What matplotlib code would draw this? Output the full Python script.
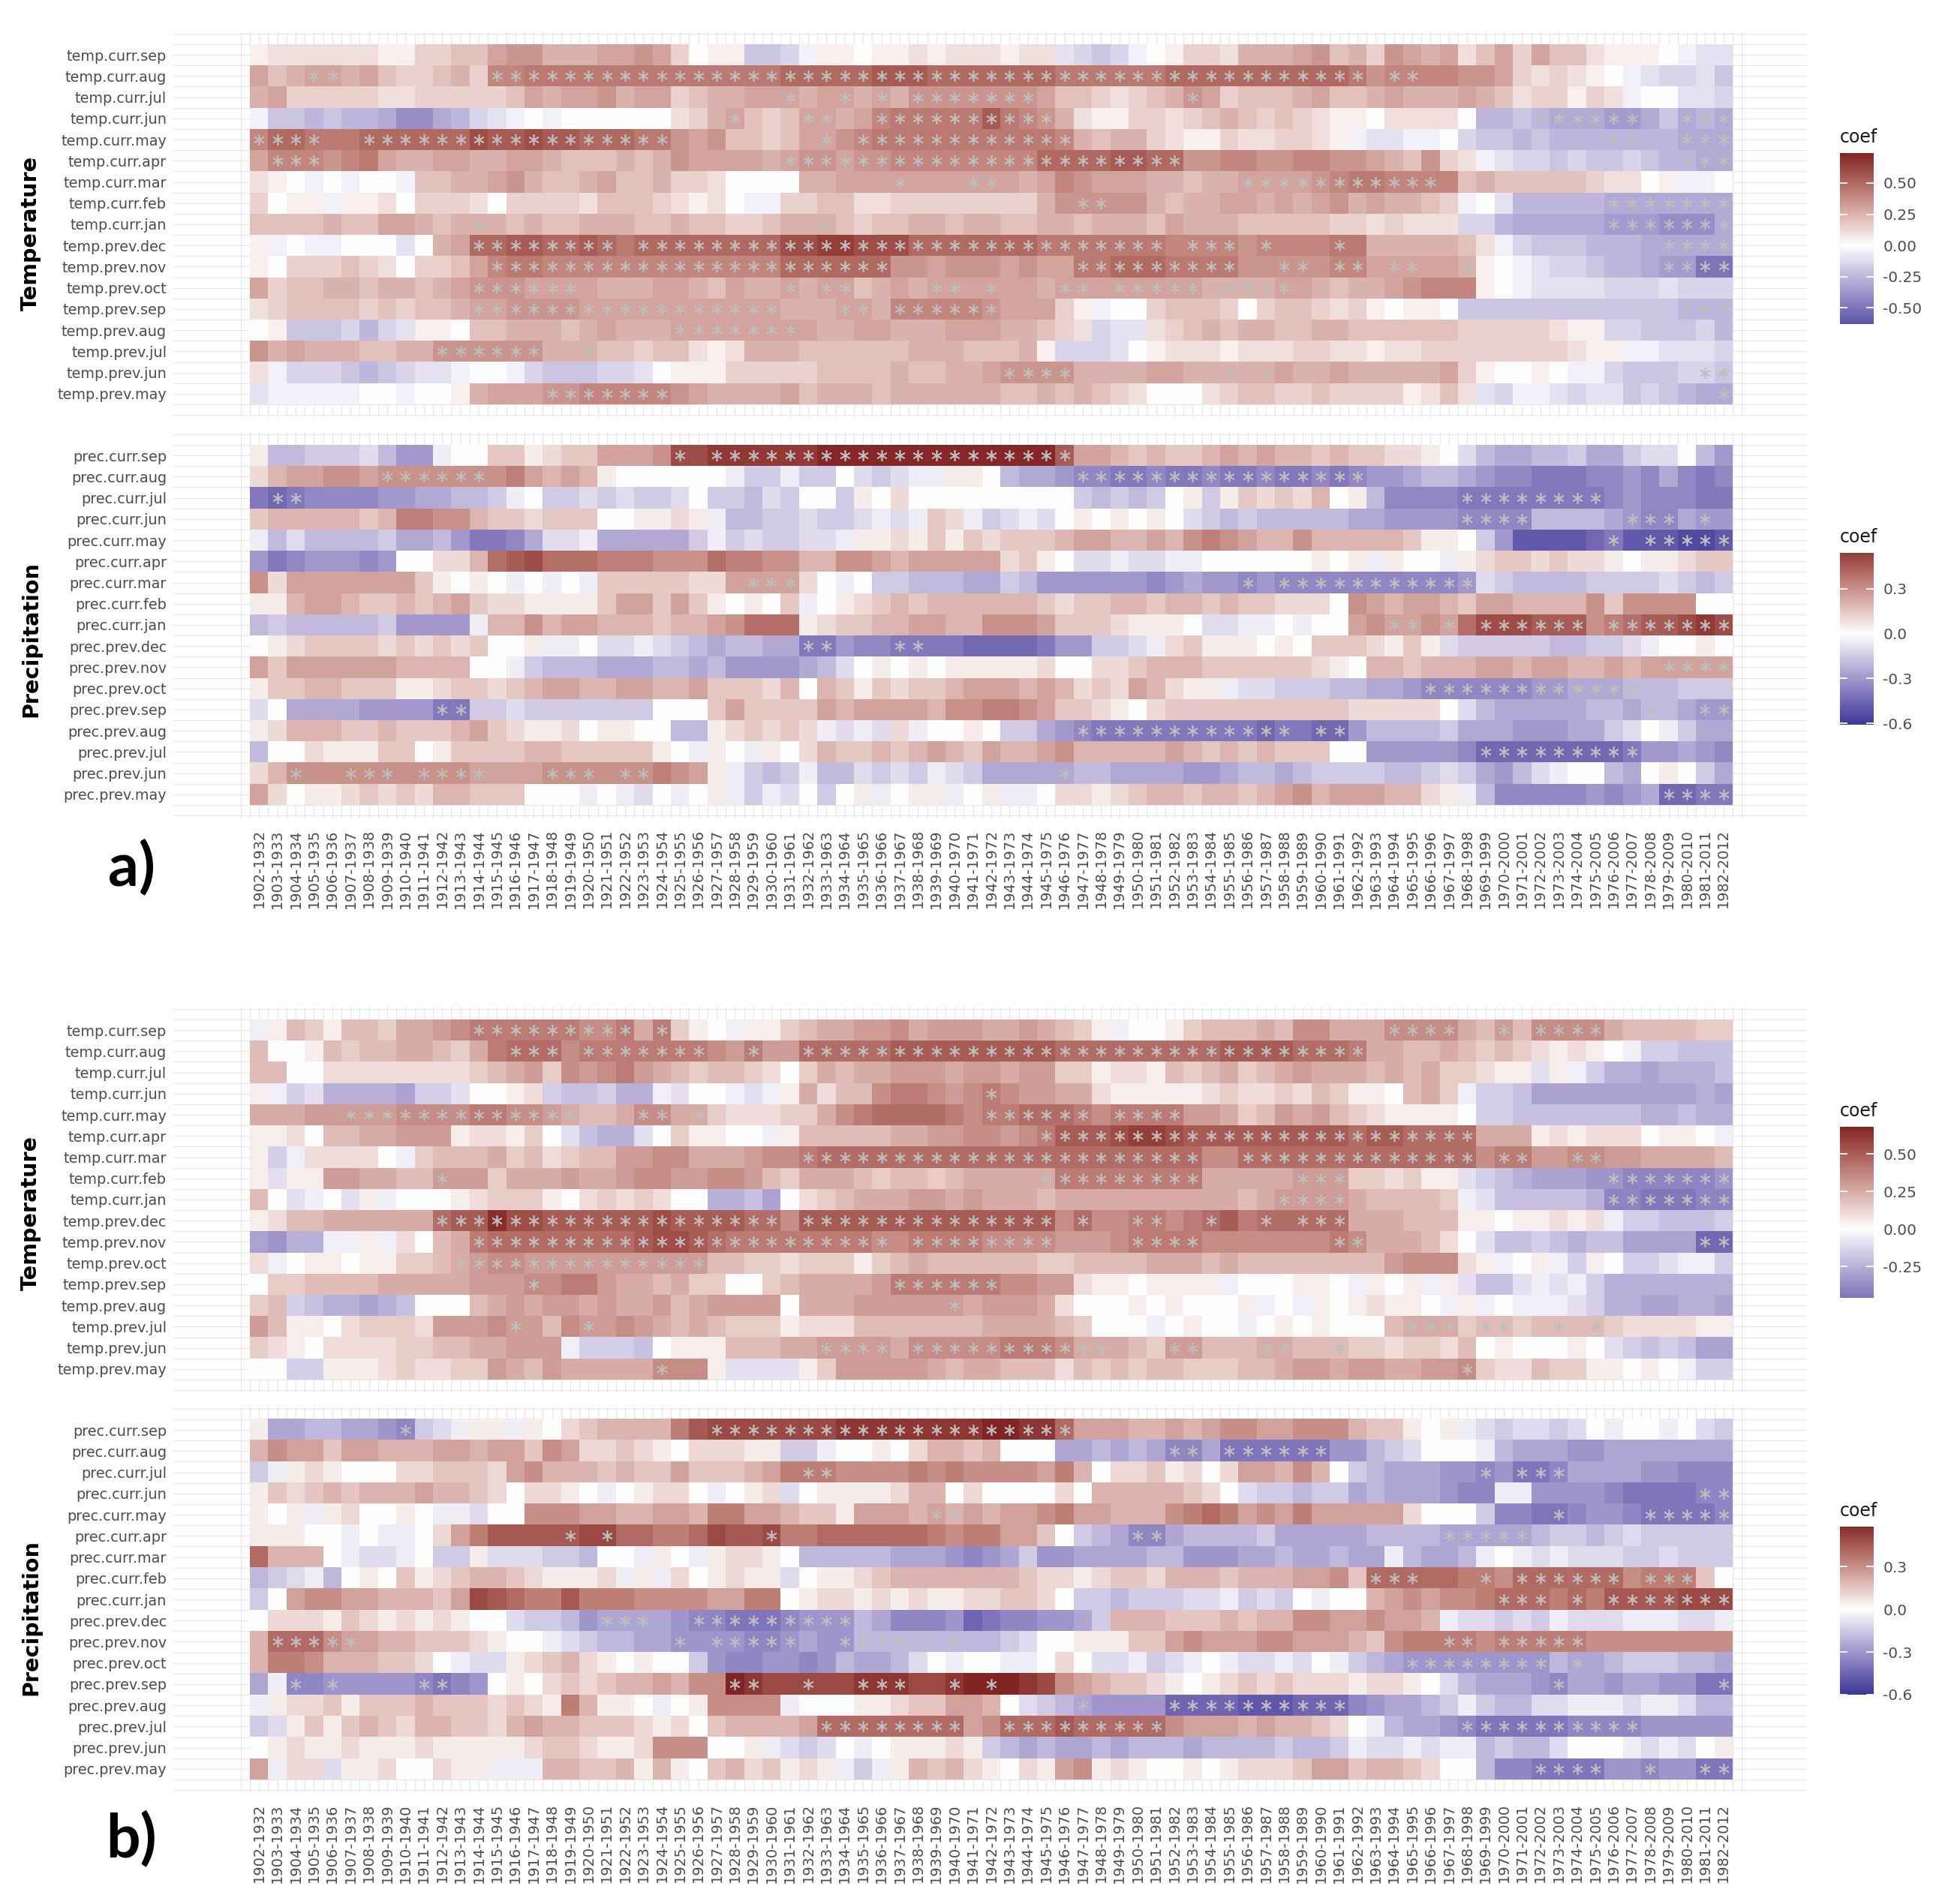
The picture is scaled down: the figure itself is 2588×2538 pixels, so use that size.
import numpy as np
import matplotlib
matplotlib.use('Agg')
import matplotlib.pyplot as plt
from matplotlib.colors import ListedColormap, Normalize, to_rgb

plt.rcParams['font.family'] = 'DejaVu Sans'

# ---------------------------------------------------------------- labels
temp_rows = ['temp.curr.sep', 'temp.curr.aug', 'temp.curr.jul', 'temp.curr.jun',
             'temp.curr.may', 'temp.curr.apr', 'temp.curr.mar', 'temp.curr.feb',
             'temp.curr.jan', 'temp.prev.dec', 'temp.prev.nov', 'temp.prev.oct',
             'temp.prev.sep', 'temp.prev.aug', 'temp.prev.jul', 'temp.prev.jun',
             'temp.prev.may']
prec_rows = ['prec.curr.sep', 'prec.curr.aug', 'prec.curr.jul', 'prec.curr.jun',
             'prec.curr.may', 'prec.curr.apr', 'prec.curr.mar', 'prec.curr.feb',
             'prec.curr.jan', 'prec.prev.dec', 'prec.prev.nov', 'prec.prev.oct',
             'prec.prev.sep', 'prec.prev.aug', 'prec.prev.jul', 'prec.prev.jun',
             'prec.prev.may']

windows = ['1902-1932', '1903-1933', '1904-1934', '1905-1935', '1906-1936', '1907-1937',
           '1908-1938', '1909-1939', '1910-1940', '1911-1941', '1912-1942', '1913-1943',
           '1914-1944', '1915-1945', '1916-1946', '1917-1947', '1918-1948', '1919-1949',
           '1920-1950', '1921-1951', '1922-1952', '1923-1953', '1924-1954', '1925-1955',
           '1926-1956', '1927-1957', '1928-1958', '1929-1959', '1930-1960', '1931-1961',
           '1932-1962', '1933-1963', '1934-1964', '1935-1965', '1936-1966', '1937-1967',
           '1938-1968', '1939-1969', '1940-1970', '1941-1971', '1942-1972', '1943-1973',
           '1944-1974', '1945-1975', '1946-1976', '1947-1977', '1948-1978', '1949-1979',
           '1950-1980', '1951-1981', '1952-1982', '1953-1983', '1954-1984', '1955-1985',
           '1956-1986', '1957-1987', '1958-1988', '1959-1989', '1960-1990', '1961-1991',
           '1962-1992', '1963-1993', '1964-1994', '1965-1995', '1966-1996', '1967-1997',
           '1968-1998', '1969-1999', '1970-2000', '1971-2001', '1972-2002', '1973-2003',
           '1974-2004', '1975-2005', '1976-2006', '1977-2007', '1978-2008', '1979-2009',
           '1980-2010', '1981-2011', '1982-2012']

# ---------------------------------------------------------------- coefficients
# one string per row, one character per window:
# '0' = 0, digits 1-9 = +0.05..+0.45, A-E = +0.50..+0.70, a-m = -0.05..-0.65
a_temp = [
    "1222222113 3446775556 6763011ddc a110112122 2122bcdca0 1332555674 5376562463 64421110abb",
    "6456656433 4538899999 999999999A AAAABBBAAA AAAA999999 AAAAAAAAAA 9788887763 23210abccbd",
    "5633333223 3333465667 5663455666 5665657777 7776443234 5763444564 4565556542 33132a00bbc",
    "addedeefhh fecba0a000 0002356434 6656899999 B987521133 2345434321 1022220eed efffggfdfef",
    "8AA999AAAA AACBBCBBAA A997674434 6678999999 9999854553 2113223321 abbaa0cdde deeeeeeefff",
    "6888789655 6655665444 5457666656 7767788888 888AAAABBA A778877887 7654732abc cdcddcdeeff",
    "210a0a00a4 4556754456 4453320000 5566666666 6656876665 5455666678 9988884544 44432201aa0",
    "3011a11203 3320333324 4432120aa3 3442233333 3335777775 4556656567 565543a0be eeeefffffff",
    "4444544665 4555454455 5445443345 5543445545 5445545554 6555444443 323222ccef ffffggghhhf",
    "1a0aa000b0 56AABBAABA 9AAAAAAAAC CDDCCCAAAA AAA9999999 8888788889 95555542ac dddeeefffff",
    "1033343203 3468998888 888888888A AAAAA77677 7676699AAA 9999777778 866666510a bccdeefggjj",
    "6344554554 5677766665 5566546556 5664565666 6665666666 6655556654 556788810a bbbbcccbccc",
    "2344443434 4566777766 6666666665 5566588888 766631a003 4443034432 310110dddd ddddddddeee",
    "01dddcecb1 1044555456 5556666666 6556655566 655432cbb2 3454554455 4444443333 3211ccdddce",
    "7565554455 7777775554 4344212555 4444445554 4451cccb01 2221222332 2122333333 33211aabbbc",
    "2acccdedcb ba00acdddc cb01113333 3444454455 6777755556 6555556556 5555563100 10aacdddccd",
    "baaaaa00a0 0156667788 8887655556 4555455555 5445454320 0023443343 3331242bca abcbbdcdeff",
]
a_prec = [
    "1ddcccbdff a003312335 556AABBBBB BCCCCCCCCC CCCC955434 3345454434 332210bdee ddceecbb0df",
    "2455665666 6666754541 000000acca cc0bcbaa11 0deefgghhg hhghhghhgh gffeddefgg hhhggfgeghg",
    "hihggggffe eddca0ccbc bccb0ccdbc 00c1020000 00000cdcdc 01c1323240 1dgggghhhh hhhhgfggghh",
    "3444443477 6643323330 01121addcc bccbaba32a cbab010101 0bcdcddddd eeffffgggg ddddefggeff",
    "adbddddcee dfhhgebbae eeeecacbcc bba1121313 2333455445 4676544644 4443110cfj jjjihjjjkkj",
    "fhgfffgf00 22489A8887 7766687766 4466545555 52310bbabb aa00000010 1a100a1233 23221011233",
    "6255555553 1010a0a0a3 3333225555 20a0ccddde ecdffffffg feffgfgggg ggggggfbcd dddccccbcdc",
    "1145543343 4532211113 5535310103 a012343444 4443233443 4434332220 6545543554 44463666600",
    "dcdddddcff ffa4464554 4434456888 1233445544 6665333211 10bbaa0a00 5655658AAA 99967899ABA",
    "0123333232 323001aa0b babcdeddee hhfgghhhhi iiihffccba 2311101033 32131bcccc cddccba0010",
    "5355555544 4400acddde eeddedffff edb0101011 1112002234 4433333321 0443444554 55445455555",
    "1334433311 2332345544 5544533324 0431323345 5545423254 211abbcccd deefgggggg ffeeedddccc",
    "b0eeeeffff hhccbccccc cc00035333 3545555466 7765332102 3333333333 222220bdee eeeddeddeff",
    "1244433433 3453211201 100dd12323 2abab2a001 0ccefghhhh hhhhhihhii fddddceeef ffeecb0acee",
    "d002111330 1333344333 3310a10a10 2433434543 5445644444 5434343330 0fffffgiii iiiiihffefg",
    "2466666666 6655556666 667651acdc addbcbcabc eeeeeddeee effeddedcc ccddcbcefd ba00de010ce",
    "5201123232 44333000a0 ab0a01acab 0c01a011a0 1aa0221234 4344345645 554421adgg gggfgfeiihh",
]
b_temp = [
    "a143144355 6788888877 858310a113 4556675666 5565431a00 1344454775 5577775464 77775444433",
    "4001434455 4358999788 8888876866 99999AAAAA AAAA999999 999AAAA999 8554454343 21210accddd",
    "4400222222 2234563767 8654344320 3545566656 6566331221 4345345655 5454533211 b1aceefeeed",
    "1acbeeeefc cb0012cddc eeab00aba1 5244788767 8766552111 1123223243 110453accd fffffffffef",
    "5556666677 7788776544 5775532223 3578999987 8899987888 8665346564 3211110ccd ddddddeedee",
    "1120445566 6122130bde eb031100a1 4444455667 7678AAABCC BAAAAAAAAA 9AA9999555 1212220110a",
    "1ca22220a3 4445342344 6677555677 8999999999 9999999999 9977999999 9999999788 66776655554",
    "1b11665544 6663555655 6776677643 5554344345 5555888888 8855555666 332311bcde fffgghhhhhg",
    "40ba0b1a00 0123331023 23200eedf0 2345556656 5554555555 5555456666 544443abdd dddehhiiihh",
    "1244555555 9AADBBAAAA AABAAAA997 AAAAAAAAAA AAAA797788 789A899999 5554441101 1212accdddc",
    "fgeeaa1a20 4589999999 9ABBA98888 8888778888 7777666788 8877777778 7555420bdd cdeddffffjj",
    "2a01101133 4567766666 6666644332 3331345444 4443344445 5545444444 44677721a0 1ac10ccbaac",
    "0334444555 5566677886 5545330034 5555688888 8776621101 111a000110 a101a1bddb abaceeeeeee",
    "34cdeefed0 0045656656 5564566660 5556666665 6665200010 10001a0a10 12110a1a0a aabceeffeef",
    "6411023332 6667664766 7654543331 2224444444 555543000a 0100a01010 0045553443 44443222211",
    "3210222233 4455666acc cd01114445 5666657777 7888755543 6644455444 3323324010 0010bcdcdff",
    "00cc111232 2336546555 557771bbbb 1366666545 5444243434 4333445665 6655667322 43311010acc",
]
b_prec = [
    "1eeddeefgc ba11a10234 44479AAAAA AABBBBBBBB CCBB855544 5456655666 433101abcb bcb0a00a0bc",
    "4655355444 5545536522 321022211c ca00102443 4000eedede ggehhhhhhf fdcb000ade eeffeeeeeee",
    "ca12100022 3332564443 4335333457 7766667676 6665740223 1202554640 cdeeeffgfh hgeeeeffggg",
    "1323434445 443202210a 01220a012b 0111124402 0000204444 4320bccdcc edeeefggaa ffffghhhhgg",
    "101a120010 aab0066655 4455477554 3315554545 4556755444 6787565755 5552000cgg hhgffghhhhg",
    "11100a0aa0 25799999AA 88778A99A7 7888888767 75530cdegg eddddceeee eddddeeeee dccdcbccccc",
    "84440abba0 cc1bbbccd0 0a10a12210 dddddeeefg fecffeeeed dfffeedeed eeadeeda0a babbbccbccc",
    "dcbad01031 2344321112 a1a201211b 0112344444 4432212332 4443444556 3888887768 88888677730",
    "c056655444 35A9877977 7666655770 1221212112 23320ccdcc cbbacbc0a0 0456566788 87879999AAA",
    "0222132121 2100bccdfe eeefgghhhg fffdegggfi hggffec444 3334344665 56554abbcb cabbbaaabba",
    "4888655443 332100abcd deeffffggf effddddddd dcb0011133 5655566555 4367777677 77766666666",
    "4776444332 0abb123421 0100cfggff gfdeedb0a0 0aa020bbac ba0abbab0a cdefffffff fdeedcccdde",
    "eaggfffffg hgf0102323 445466CBAA AAABBBAABC DDBA654332 1012323222 12210bdeee fgeefeeffhh",
    "a122313334 3332321741 10a016666a 0001123355 40bcdeffff iiiijjjiii gfeedcacdd bbaaabaabdd",
    "cb13134324 4332454433 3212034444 5888888885 6888988888 6555454432 0adeefghhh hhggggfffff",
    "0121121112 1111123321 12666001ab cb0a011121 cdedeededd deddddcddc abbabaadcd db000abab01",
    "5a22b11200 211aaa4433 4141034231 21aca14342 1021561210 0101222355 3443200dgg hhhhffgffhh",
]

# significant cells (window indices) per row
a_temp_sig = ["", "3-4 13-60 62-63", "29 32 34 36-42 51", "26 30-31 34-43 70-75 78-80",
              "0-3 6-22 31 33-44 74-75 78-80", "1-3 29-50 78-80", "35 39-40 54-64",
              "45-46 74-80", "12 31 74-80", "12-19 21-49 51-53 55 59 77-80",
              "13-34 45-53 56-57 59-60 62-63 66 77-80",
              "12-17 29 31-32 37-38 40 44-45 47-51 53-56", "12-28 32-33 35-40 78-80",
              "23-29", "10-15 18", "41-44 53 55 79-80", "16-22 80"]
a_prec_sig = ["23 25-44", "7-12 45-60", "1-2 66-73", "66-69 75-77 79", "74 76-80", "",
              "27-29 54 56-66", "", "62-63 65 67-72 74-80", "30-31 35-36", "77-80",
              "64-75", "10-11 76 79-80", "45-56 58-59", "67-75",
              "2 5-7 9-12 16-18 20-21 44", "77-80"]
b_temp_sig = ["12-20 22 62-65 68 70-73", "14-16 18-24 27 30-60", "", "40",
              "5-17 21-22 24 40-45 47-50", "43-66", "30-51 54-66 68-69 72-73",
              "10 43-51 57-59 74-80", "56-59 74-80",
              "10-28 30-43 45 48-49 52 55 57-59", "12-34 36-43 48-51 59-60 79-80",
              "11-24", "15 35-40", "38", "14 18 63-65 67-68 71 73",
              "31-34 36-46 50-51 55-56 59", "22 66"]
b_prec_sig = ["8 25-44", "50-51 53-58", "30-31 67 69-71", "79-80", "37-38 71 76-80",
              "17 19 28 48-49 65-69", "", "61-63 67 69-74 76-78", "68-70 72 74-80",
              "19-21 24-32", "1-5 23 25-29 32-35 38 65-66 68-72", "63-70 72",
              "2 4 9-10 26-27 30 33-35 38 40 71 80", "45 50-59", "31-38 41-49 66-75", "",
              "70-73 76 79-80"]

# legend ranges and breaks
a_temp_range = (-0.63, 0.74)
a_prec_range = (-0.61, 0.54)
b_temp_range = (-0.46, 0.68)
b_prec_range = (-0.60, 0.58)
temp_breaks = [-0.50, -0.25, 0.00, 0.25, 0.50]
temp_break_labels = ['-0.50', '-0.25', '0.00', '0.25', '0.50']
prec_breaks = [-0.6, -0.3, 0.0, 0.3]
prec_break_labels = ['-0.6', '-0.3', '0.0', '0.3']


def decode(rows):
    out = []
    for s in rows:
        vals = []
        for ch in s.replace(' ', ''):
            if ch.isdigit():
                vals.append(int(ch) * 0.05)
            elif ch.islower():
                vals.append(-(ord(ch) - 96) * 0.05)
            else:
                vals.append((ord(ch) - 55) * 0.05)
        vals = (vals + [0.0] * 81)[:81]
        out.append(vals)
    return np.array(out)


def parse_sig(spec):
    cols = []
    for part in spec.split():
        if '-' in part:
            a, b = part.split('-')
            cols.extend(range(int(a), int(b) + 1))
        else:
            cols.append(int(part))
    return cols


# ggplot-like gradient2 (muted blue - white - muted red) interpolated in Lab
def to_lab(col):
    rgb = np.array(to_rgb(col))
    lin = np.where(rgb <= 0.04045, rgb / 12.92, ((rgb + 0.055) / 1.055) ** 2.4)
    m = np.array([[0.4124564, 0.3575761, 0.1804375],
                  [0.2126729, 0.7151522, 0.0721750],
                  [0.0193339, 0.1191920, 0.9503041]])
    t = (m @ lin) / np.array([0.95047, 1.0, 1.08883])
    f = np.where(t > (6 / 29) ** 3, np.cbrt(t), t / (3 * (6 / 29) ** 2) + 4 / 29)
    return np.array([116 * f[1] - 16, 500 * (f[0] - f[1]), 200 * (f[1] - f[2])])


def from_lab(lab):
    fy = (lab[0] + 16) / 116
    f = np.array([fy + lab[1] / 500, fy, fy - lab[2] / 200])
    t = np.where(f > 6 / 29, f ** 3, 3 * (6 / 29) ** 2 * (f - 4 / 29))
    xyz = t * np.array([0.95047, 1.0, 1.08883])
    mi = np.array([[3.2404542, -1.5371385, -0.4985314],
                   [-0.9692660, 1.8760108, 0.0415560],
                   [0.0556434, -0.2040259, 1.0572252]])
    lin = np.clip(mi @ xyz, 0, 1)
    rgb = np.where(lin <= 0.0031308, 12.92 * lin, 1.055 * lin ** (1 / 2.4) - 0.055)
    return np.clip(rgb, 0, 1)


low, mid, high = to_lab('#3A3A98'), to_lab('#FFFFFF'), to_lab('#832424')
ramp = []
for p in np.linspace(0, 1, 256):
    if p < 0.5:
        ramp.append(from_lab(low + (mid - low) * p / 0.5))
    else:
        ramp.append(from_lab(mid + (high - mid) * (p - 0.5) / 0.5))
cmap = ListedColormap(ramp)

# ---------------------------------------------------------------- layout (pixels)
W, H = 2588, 2538
fig = plt.figure(figsize=(W / 100, H / 100), dpi=100)
fig.patch.set_facecolor('white')

X0, X1 = 333, 2309
CW = (X1 - X0) / 81
RH = 480 / 17
EXP = 0.6
GRID = '#E6E6E6'
TXT = '#4D4D4D'


def px_axes(x0, y0, x1, y1):
    return fig.add_axes([x0 / W, 1 - y1 / H, (x1 - x0) / W, (y1 - y0) / H])


def heat(top, codes, sig, rows, rng, xlabels):
    x0, x1 = X0 - EXP * CW, X1 + EXP * CW
    ax = px_axes(x0, top - EXP * RH, x1, top + 480 + EXP * RH)
    vals = decode(codes)
    m = max(abs(rng[0]), abs(rng[1]))
    norm = Normalize(-m, m, clip=True)

    gx = np.arange(-1.0, 81.01, 0.5)
    gy = np.arange(-1.0, 17.01, 0.5)
    ax.vlines(gx, -1.1, 17.1, color=GRID, lw=0.8, zorder=0)
    xl = -1.1 - (x0 - 230) / CW
    xr = 81.1 + (2408 - x1) / CW
    ax.hlines(gy, xl, xr, color=GRID, lw=0.8, zorder=0, clip_on=False)

    ax.imshow(vals, cmap=cmap, norm=norm, aspect='auto', interpolation='nearest',
              extent=(-0.5, 80.5, 16.5, -0.5), zorder=1)

    xs, ys = [], []
    for r, spec in enumerate(sig):
        for c in parse_sig(spec):
            xs.append(c)
            ys.append(r)
    ax.plot(xs, ys, linestyle='none', marker=(6, 2, 0), markersize=10.5,
            markeredgecolor='#BEBEBE', markeredgewidth=1.2, zorder=3)

    ax.set_xlim(-1.1, 81.1)
    ax.set_ylim(17.1, -1.1)
    for s in ax.spines.values():
        s.set_visible(False)
    ax.set_facecolor('none')
    ax.set_yticks(range(17))
    ax.set_yticklabels(rows)
    ax.tick_params(axis='y', length=0, pad=(x0 - 222) * 0.72, labelsize=13.9,
                   labelcolor=TXT)
    if xlabels:
        ax.set_xticks(range(81))
        ax.set_xticklabels(windows, rotation=90, va='top', ha='center')
        ax.tick_params(axis='x', length=0, pad=11, labelsize=13.9, labelcolor=TXT)
    else:
        ax.set_xticks([])
    return ax


def legend_bar(y0, y1, rng, breaks, labels):
    ax = px_axes(2452, y0, 2497, y1)
    m = max(abs(rng[0]), abs(rng[1]))
    norm = Normalize(-m, m, clip=True)
    grad = np.linspace(rng[0], rng[1], 300)[:, None]
    ax.imshow(grad, cmap=cmap, norm=norm, aspect='auto', origin='lower',
              extent=(0, 1, rng[0], rng[1]))
    for b in breaks:
        ax.plot([0, 0.2], [b, b], color='white', lw=1.3)
        ax.plot([0.8, 1], [b, b], color='white', lw=1.3)
    ax.set_xlim(0, 1)
    ax.set_ylim(rng)
    ax.set_xticks([])
    ax.yaxis.tick_right()
    ax.set_yticks(breaks)
    ax.set_yticklabels(labels)
    ax.tick_params(axis='y', length=0, pad=9, labelsize=14.5, labelcolor=TXT)
    for s in ax.spines.values():
        s.set_visible(False)
    fig.text(2452 / W, 1 - (y0 - 9) / H, 'coef', ha='left', va='bottom',
             fontsize=17, color='#1A1A1A')


# panel a
heat(59, a_temp, a_temp_sig, temp_rows, a_temp_range, False)
heat(593, a_prec, a_prec_sig, prec_rows, a_prec_range, True)
legend_bar(204, 432, a_temp_range, temp_breaks, temp_break_labels)
legend_bar(737, 966, a_prec_range, prec_breaks, prec_break_labels)

# panel b
heat(1359, b_temp, b_temp_sig, temp_rows, b_temp_range, False)
heat(1892, b_prec, b_prec_sig, prec_rows, b_prec_range, True)
legend_bar(1502, 1730, b_temp_range, temp_breaks[1:], temp_break_labels[1:])
legend_bar(2035, 2259, b_prec_range, prec_breaks, prec_break_labels)

# side titles and panel letters
for label, yc in [('Temperature', 311), ('Precipitation', 852),
                  ('Temperature', 1617), ('Precipitation', 2156)]:
    fig.text(41 / W, 1 - yc / H, label, rotation=90, ha='center', va='center',
             fontsize=20.6, fontweight='bold', color='black')

fig.text(175 / W, 1 - 1157 / H, 'a)', ha='center', va='center', fontsize=58,
         fontweight='bold', family=['Lato', 'DejaVu Sans'])
fig.text(175 / W, 1 - 2452 / H, 'b)', ha='center', va='center', fontsize=58,
         fontweight='bold', family=['Lato', 'DejaVu Sans'])

fig.savefig('out.png', dpi=100, facecolor='white')
